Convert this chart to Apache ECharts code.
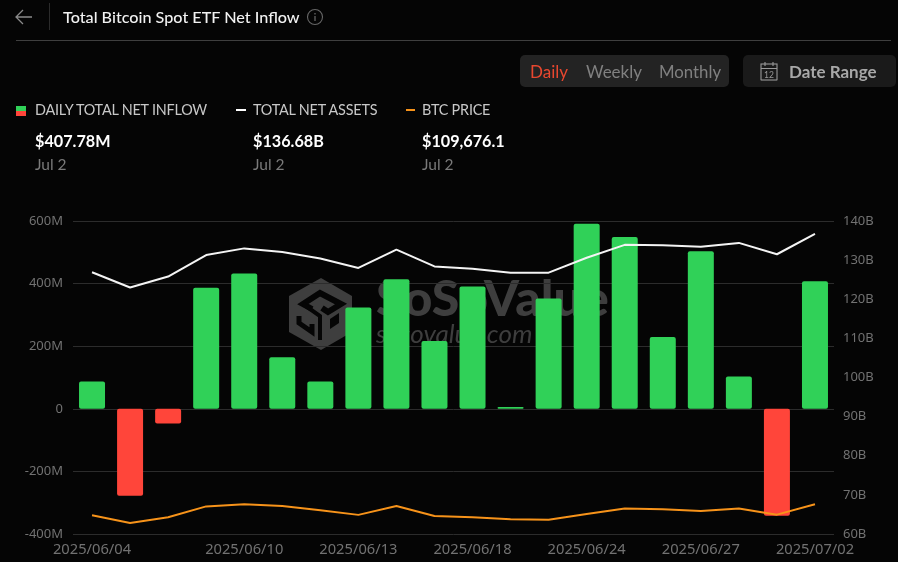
<!DOCTYPE html>
<html lang="en">
<head>
    <meta charset="UTF-8">
    <title>Total Bitcoin Spot ETF Net Inflow</title>
    <script src="https://cdn.jsdelivr.net/npm/echarts@6/dist/echarts.min.js"></script>
    <style>
        html, body { margin: 0; padding: 0; background: #050505; overflow: hidden; }
        #page { position: relative; width: 898px; height: 562px; font-family: Lato, sans-serif; }
        #chart { position: absolute; left: 0; top: 0; width: 898px; height: 562px; }
        .t { position: absolute; white-space: nowrap; line-height: 20px; }
        .box { position: absolute; border-radius: 5px; }
        .label { color: #c8c8c8; font-size: 14.4px; top: 100px; letter-spacing: -0.2px; }
        .value { color: #fff; font-size: 16.2px; font-weight: 700; top: 131px; }
        .date { color: #7a7a7a; font-size: 15.5px; top: 154px; }
        .tab { color: #808080; font-size: 17px; top: 62px; }
    </style>
</head>
<body>
<div id="page">
    <div id="chart"></div>

    <svg class="box" style="left:14px;top:8px" width="20" height="18" viewBox="0 0 20 18">
        <path d="M18 9H2M9 2L2 9l7 7" fill="none" stroke="#8a8a8a" stroke-width="1.3"/>
    </svg>
    <div class="box" style="left:49px;top:3px;width:1px;height:27px;background:#2b2b2b;border-radius:0"></div>
    <div class="t" style="left:63px;top:7px;color:#f2f2f2;font-size:16.2px;font-weight:500">Total Bitcoin Spot ETF Net Inflow</div>
    <svg class="box" style="left:306px;top:8px" width="18" height="18" viewBox="0 0 18 18">
        <circle cx="9" cy="9" r="7.5" fill="none" stroke="#666" stroke-width="1.1"/>
        <path d="M9 8v5M9 5v1.5" stroke="#666" stroke-width="1.3"/>
    </svg>
    <div class="box" style="left:16px;top:40px;width:875px;height:1px;background:#3f3f3f;border-radius:0"></div>

    <div class="box" style="left:520px;top:55px;width:209px;height:32px;background:#232323"></div>
    <div class="t tab" style="left:530px;color:#e8472f">Daily</div>
    <div class="t tab" style="left:586px">Weekly</div>
    <div class="t tab" style="left:659px;font-size:16.8px">Monthly</div>

    <div class="box" style="left:743px;top:55px;width:153px;height:32px;background:#1a1a1a"></div>
    <svg class="box" style="left:759px;top:60px" width="20" height="22" viewBox="0 0 20 22">
        <rect x="2" y="4" width="16" height="16" fill="none" stroke="#999" stroke-width="1.1"/>
        <path d="M2 8.5h16M6 2v4M14 2v4" stroke="#999" stroke-width="1.1"/>
        <text x="10" y="18" text-anchor="middle" font-size="8.5" font-family="Lato" fill="#999">12</text>
    </svg>
    <div class="t tab" style="left:789px;color:#a8a8a8;font-weight:700">Date Range</div>

    <div class="box" style="left:16px;top:106px;width:10px;height:5px;background:#30d158;border-radius:0"></div>
    <div class="box" style="left:16px;top:111px;width:10px;height:5px;background:#ff453a;border-radius:0"></div>
    <div class="t label" style="left:35px">DAILY TOTAL NET INFLOW</div>
    <div class="t value" style="left:35px">$407.78M</div>
    <div class="t date" style="left:35px">Jul 2</div>

    <div class="box" style="left:236px;top:109px;width:10px;height:2px;background:#fff;border-radius:0"></div>
    <div class="t label" style="left:253px">TOTAL NET ASSETS</div>
    <div class="t value" style="left:253px">$136.68B</div>
    <div class="t date" style="left:253px">Jul 2</div>

    <div class="box" style="left:406px;top:109px;width:9px;height:2px;background:#f7931a;border-radius:0"></div>
    <div class="t label" style="left:422px">BTC PRICE</div>
    <div class="t value" style="left:422px">$109,676.1</div>
    <div class="t date" style="left:422px">Jul 2</div>
</div>

<script>
    var dates = ['2025/06/04', '2025/06/05', '2025/06/06', '2025/06/09', '2025/06/10',
        '2025/06/11', '2025/06/12', '2025/06/13', '2025/06/16', '2025/06/17',
        '2025/06/18', '2025/06/20', '2025/06/23', '2025/06/24', '2025/06/25',
        '2025/06/26', '2025/06/27', '2025/06/30', '2025/07/01', '2025/07/02'];
    var shownDates = [0, 4, 7, 10, 13, 16, 19];

    // millions of USD
    var netInflow = [87, -278, -47, 387, 432, 165, 87, 324, 414, 217,
        391, 6, 352, 591, 549, 229, 503, 103, -342, 407.78];
    // billions of USD
    var netAssets = [126.9, 123.0, 125.8, 131.3, 133.0, 132.1, 130.4, 128.0, 132.7, 128.4,
        127.8, 126.8, 126.8, 130.6, 133.9, 133.8, 133.4, 134.4, 131.5, 136.68];
    var btcPrice = [104600, 101100, 103700, 108700, 109700, 108900, 106900, 104800, 108900, 104300,
        103700, 102800, 102600, 105200, 107700, 107400, 106600, 107700, 104900, 109676.1];

    var axisText = '#727272';
    var green = '#30d158';
    var red = '#ff453a';
    var markColor = '#3e3e3e';
    var cutColor = '#050505';

    var myChart = echarts.init(document.getElementById('chart'));

    var option = {
        animation: false,
        backgroundColor: 'transparent',
        textStyle: { fontFamily: '"Noto Sans", sans-serif' },
        grid: { left: 73, top: 221, width: 761, height: 313 },
        graphic: [
            // watermark
            {
                type: 'polygon', z: -1,
                shape: { points: [[321, 278], [352, 296], [352, 332], [321, 350], [289, 332], [289, 296]] },
                style: { fill: markColor }
            },
            {
                type: 'polyline', z: -1,
                shape: { points: [[312, 309], [303, 304], [320, 293], [341, 304], [328, 312], [322, 308]] },
                style: { fill: 'none', stroke: cutColor, lineWidth: 6 }
            },
            {
                type: 'polyline', z: -1,
                shape: { points: [[303, 304], [320, 316], [320, 340]] },
                style: { fill: 'none', stroke: cutColor, lineWidth: 4 }
            },
            {
                type: 'polyline', z: -1,
                shape: { points: [[299, 316], [299, 323], [312, 332], [312, 324]] },
                style: { fill: 'none', stroke: cutColor, lineWidth: 5 }
            },
            {
                type: 'polygon', z: -1,
                shape: { points: [[330, 319], [339, 313], [339, 323], [330, 329]] },
                style: { fill: cutColor }
            },
            {
                type: 'text', z: -1, left: 376, top: 275,
                style: { text: 'SoSoValue', fill: markColor, font: '900 50px Lato' }
            },
            {
                type: 'text', z: -1, left: 376, top: 322,
                style: { text: 'sosovalue.com', fill: markColor, font: 'italic 400 26px Lato' }
            }
        ],
        xAxis: {
            type: 'category',
            data: dates,
            axisLine: { show: false, onZero: false },
            axisTick: { show: false },
            axisLabel: {
                color: axisText,
                fontSize: 14.7,
                margin: 8,
                hideOverlap: false,
                interval: function (index) { return shownDates.indexOf(index) >= 0; }
            }
        },
        yAxis: [
            {
                type: 'value', min: -400, max: 600, interval: 200,
                axisLine: { show: false },
                axisTick: { show: false },
                axisLabel: {
                    color: axisText, fontSize: 13, margin: 10,
                    formatter: function (v) { return v === 0 ? '0' : v + 'M'; }
                },
                splitLine: { lineStyle: { color: '#2c2c2c' } }
            },
            {
                type: 'value', min: 60, max: 140, interval: 10, position: 'right',
                axisLine: { show: false },
                axisTick: { show: false },
                axisLabel: { color: axisText, fontSize: 13, margin: 9, padding: [2, 0, 0, 0], formatter: '{value}B' },
                splitLine: { show: false }
            },
            {
                // btc price has its own hidden scale
                type: 'value', min: 96000, max: 240000, show: false,
                splitLine: { show: false }
            }
        ],
        series: [
            {
                name: 'Daily Total Net Inflow',
                type: 'bar',
                barWidth: 26,
                data: netInflow,
                itemStyle: {
                    borderRadius: 2,
                    color: function (p) { return p.value >= 0 ? green : red; }
                }
            },
            {
                name: 'Total Net Assets',
                type: 'line',
                yAxisIndex: 1,
                data: netAssets,
                showSymbol: false,
                lineStyle: { color: '#f4f4f4', width: 2 }
            },
            {
                name: 'BTC Price',
                type: 'line',
                yAxisIndex: 2,
                data: btcPrice,
                showSymbol: false,
                lineStyle: { color: '#f7931a', width: 2 }
            }
        ]
    };

    myChart.setOption(option);
</script>
</body>
</html>
